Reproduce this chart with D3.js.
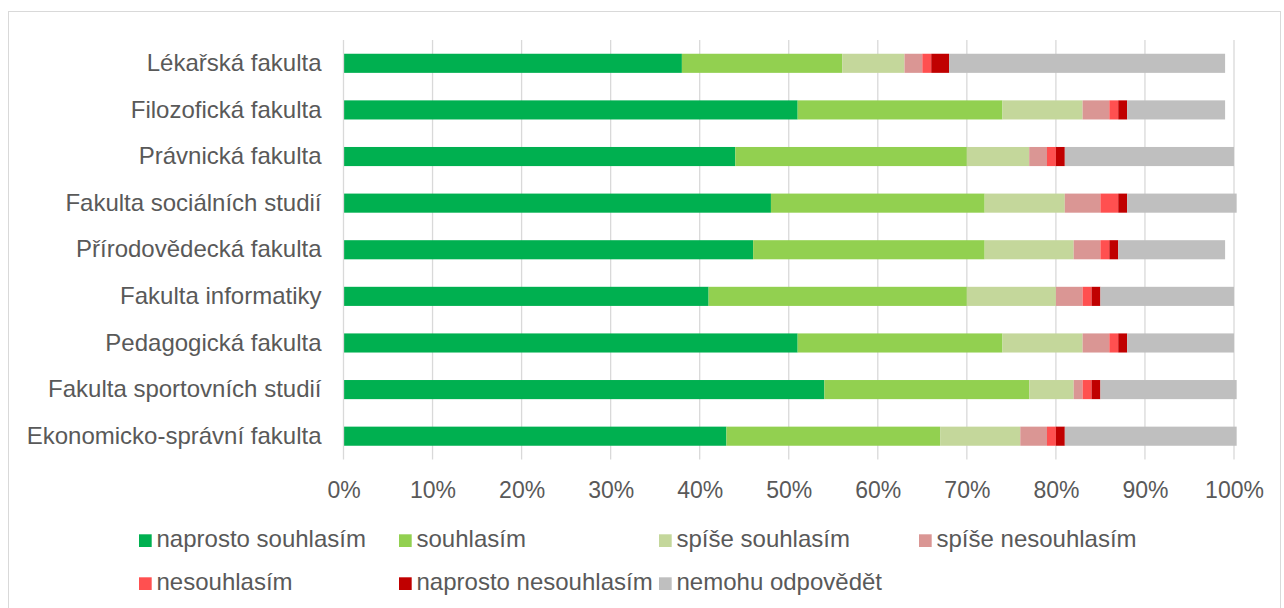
<!DOCTYPE html>
<html><head><meta charset="utf-8">
<script src="https://cdn.jsdelivr.net/npm/d3@7"></script>
<style>
html,body{margin:0;padding:0;background:#fff;}
svg{display:block;font-family:"Liberation Sans",Arial,sans-serif;}
</style></head>
<body>
<svg id="chart" width="1284" height="608"></svg>
<script>
const categories = ["Lékařská fakulta","Filozofická fakulta","Právnická fakulta","Fakulta sociálních studií","Přírodovědecká fakulta","Fakulta informatiky","Pedagogická fakulta","Fakulta sportovních studií","Ekonomicko-správní fakulta"];
const seriesNames = ["naprosto souhlasím","souhlasím","spíše souhlasím","spíše nesouhlasím","nesouhlasím","naprosto nesouhlasím","nemohu odpovědět"];
const seriesColors = ["#00B050","#92D050","#C4D79B","#DA9694","#FF5050","#C00000","#BFBFBF"];
const naprostoSouhlasim   = [38,51,44,48,46,41,51,54,43];
const souhlasim           = [18,23,26,24,26,29,23,23,24];
const spiseSouhlasim      = [7,9,7,9,10,10,9,5,9];
const spiseNesouhlasim    = [2,3,2,4,3,3,3,1,3];
const nesouhlasim         = [1,1,1,2,1,1,1,1,1];
const naprostoNesouhlasim = [2,1,1,1,1,1,1,1,1];
const nemohuOdpovedet     = [31,11,19,12.3,12,15,12,15.3,19.3];
const tickValues = [0,10,20,30,40,50,60,70,80,90,100];

(function(){
const seriesValues = [naprostoSouhlasim,souhlasim,spiseSouhlasim,spiseNesouhlasim,nesouhlasim,naprostoNesouhlasim,nemohuOdpovedet];
const keys = seriesNames;
const table = categories.map((c,i)=>{const o={cat:c}; keys.forEach((k,j)=>o[k]=seriesValues[j][i]); return o;});
const stack = d3.stack().keys(keys)(table);

const svg = d3.select("#chart");
svg.append("rect").attr("x",8.5).attr("y",11.5).attr("width",1272).attr("height",620)
  .attr("fill","#fff").attr("stroke","#D9D9D9").attr("stroke-width",1);

const pLeft=343.5, pRight=1234, pTop=40, pBottom=459.5;
const x = d3.scaleLinear().domain([0,100]).range([pLeft,pRight]);
const y = d3.scaleBand().domain(categories).range([pTop,pBottom]).paddingInner(0.59).paddingOuter(0.295);
const fs = "24px", fsTick = "23px";

svg.append("g").selectAll("line").data(tickValues.filter(t=>t>0)).join("line")
  .attr("x1",d=>x(d)).attr("x2",d=>x(d)).attr("y1",pTop).attr("y2",pBottom)
  .attr("stroke","#D9D9D9").attr("stroke-width",1.3);

svg.append("g").selectAll("g").data(stack).join("g")
  .attr("fill",(d,i)=>seriesColors[i])
  .selectAll("rect").data(d=>d).join("rect")
  .attr("x",d=>x(d[0])).attr("width",d=>x(d[1])-x(d[0]))
  .attr("y",d=>y(d.data.cat)).attr("height",y.bandwidth());

svg.append("line").attr("x1",pLeft).attr("x2",pLeft).attr("y1",pTop).attr("y2",pBottom)
  .attr("stroke","#D9D9D9").attr("stroke-width",1.3);

const yAxis = d3.axisLeft(y).tickSize(0).tickPadding(22);
const gy = svg.append("g").attr("transform",`translate(${pLeft},0)`).call(yAxis);
gy.select(".domain").remove();
gy.selectAll("text").attr("font-size",fs).attr("fill","#595959").attr("font-family","Liberation Sans, Arial, sans-serif");

const xAxis = d3.axisBottom(x).tickValues(tickValues).tickFormat(d=>d+"%").tickSize(0).tickPadding(22);
const gx = svg.append("g").attr("transform",`translate(0,${pBottom})`).call(xAxis);
gx.select(".domain").remove();
gx.selectAll("text").attr("font-size",fsTick).attr("fill","#595959").attr("font-family","Liberation Sans, Arial, sans-serif");

const legCols=[139,399,659,919], legRows=[547,590];
const leg = svg.append("g").selectAll("g").data(seriesNames).join("g")
  .attr("transform",(d,i)=>`translate(${legCols[i%4]},${legRows[Math.floor(i/4)]})`);
leg.append("rect").attr("x",0).attr("y",-12.7).attr("width",12.7).attr("height",12.7).attr("fill",(d,i)=>seriesColors[i]);
leg.append("text").attr("x",17.5).attr("y",0).attr("font-size",fs).attr("fill","#595959").text(d=>d);
})();
</script>
</body></html>
